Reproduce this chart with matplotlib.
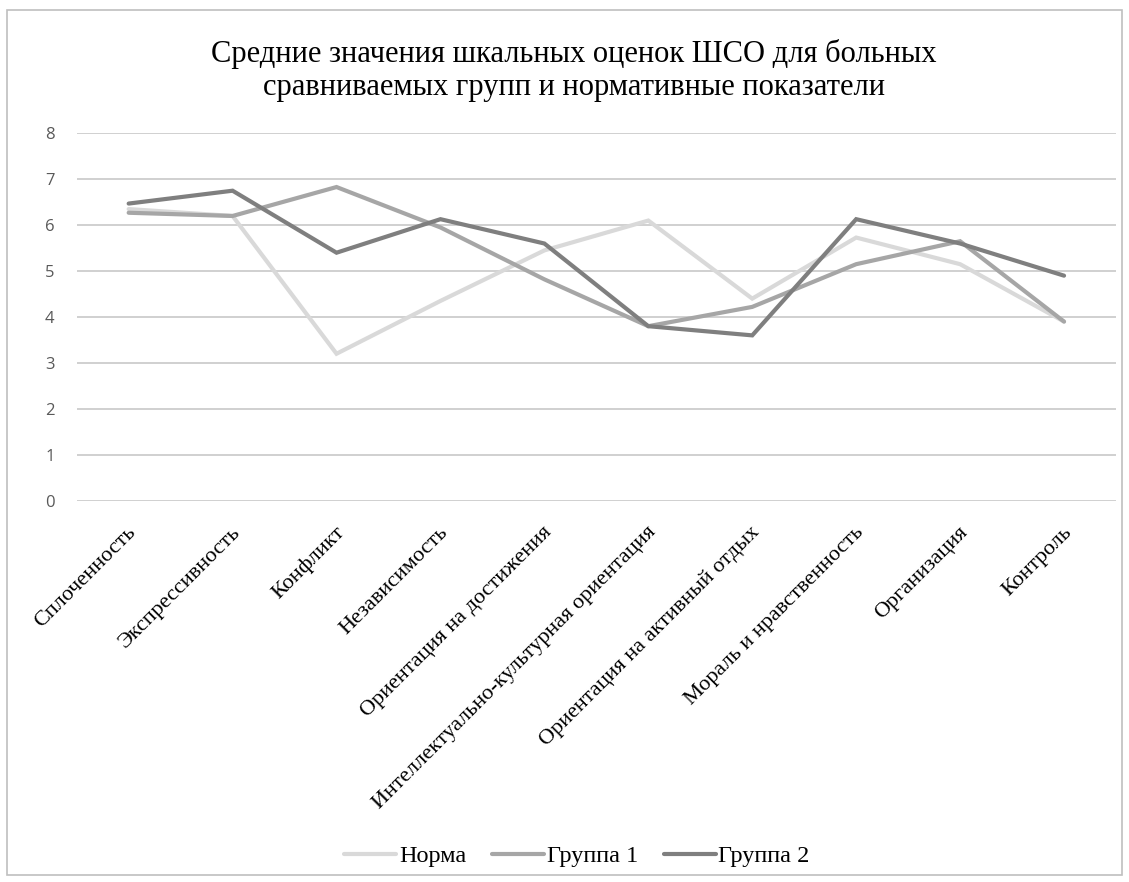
import matplotlib
matplotlib.use("Agg")
import matplotlib.pyplot as plt
from matplotlib.patches import Rectangle
from matplotlib.transforms import ScaledTranslation

categories = ["Сплоченность", "Экспрессивность", "Конфликт", "Независимость",
              "Ориентация на достижения", "Интеллектуально-культурная ориентация",
              "Ориентация на активный отдых", "Мораль и нравственность",
              "Организация", "Контроль"]
norma = [6.35, 6.2, 3.2, 4.35, 5.45, 6.1, 4.4, 5.73, 5.15, 3.9]
group1 = [6.27, 6.2, 6.83, 5.95, 4.82, 3.8, 4.22, 5.15, 5.65, 3.9]
group2 = [6.47, 6.75, 5.4, 6.13, 5.6, 3.8, 3.6, 6.13, 5.6, 4.9]
series_names = ["Норма", "Группа 1", "Группа 2"]
colors = ["#d9d9d9", "#a6a6a6", "#7f7f7f"]
yticks = [0, 1, 2, 3, 4, 5, 6, 7, 8]

W, H = 1129, 882
fig = plt.figure(figsize=(W / 100, H / 100), dpi=100)
fig.patches.append(Rectangle((7 / W, 7 / H), 1 - 14 / W, 1 - 17 / H, transform=fig.transFigure,
                             fill=False, edgecolor="#bfbfbf", linewidth=1.2))

ax = fig.add_axes([76.7 / W, 1 - 500.7 / H, (1116 - 76.7) / W, (500.7 - 133.3) / H])
x = list(range(len(categories)))
for vals, name, c in zip([norma, group1, group2], series_names, colors):
    ax.plot(x, vals, color=c, linewidth=3.0, label=name, solid_joinstyle="miter",
            solid_capstyle="round")

ax.set_xlim(-0.5, len(categories) - 0.5)
ax.set_ylim(0, 8)
ax.set_yticks(yticks)
ax.set_yticklabels([str(v) for v in yticks], fontsize=12, color="#595959", family="Open Sans")
ax.tick_params(axis="y", length=0, pad=16)
ax.tick_params(axis="x", length=0, pad=16)
ax.grid(axis="y", color="#c8c8c8", linewidth=1.2)
ax.set_axisbelow(True)
for s in ax.spines.values():
    s.set_visible(False)

ax.set_xticks(x)
ax.set_xticklabels(categories, rotation=45, ha="right", va="top", rotation_mode="anchor",
                   fontsize=16, family="Liberation Serif", color="#000000")
off = ScaledTranslation(-2 / 100, 0, fig.dpi_scale_trans)
for lbl in ax.get_xticklabels():
    lbl.set_transform(lbl.get_transform() + off)

fig.text(574 / W, 1 - 70.5 / H, "Средние значения шкальных оценок ШСО для больных\nсравниваемых групп и нормативные показатели",
         ha="center", va="center", fontsize=22, family="Liberation Serif", linespacing=1.15)

leg = fig.legend(loc="center", bbox_to_anchor=(577 / W, 1 - 856 / H), ncol=3, frameon=False,
                 prop={"family": "Liberation Serif", "size": 17.5}, handlelength=2.14,
                 handletextpad=0.12, columnspacing=1.05)

fig.savefig("out.png", dpi=100)
